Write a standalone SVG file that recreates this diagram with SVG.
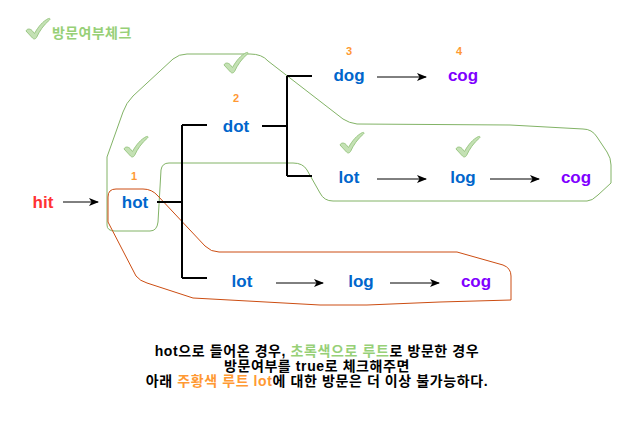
<svg xmlns="http://www.w3.org/2000/svg" width="636" height="425" viewBox="0 0 636 425">
<style>
.w{font-family:"Liberation Sans","Noto Sans CJK KR",sans-serif;font-weight:bold;font-size:17px;text-anchor:middle}
.blue{fill:#0066CC}
.purple{fill:#7F00FF}
.red{fill:#FF3333}
.num{font-family:"Liberation Sans",sans-serif;font-weight:bold;font-size:11px;fill:#FF9933;text-anchor:middle}
.tree{stroke:#000;stroke-width:2;fill:none}
.arr{stroke:#000;stroke-width:1;fill:none;marker-end:url(#ah)}
.note{font-family:"Liberation Sans","Noto Sans CJK KR",sans-serif;font-weight:bold;font-size:14px;letter-spacing:0.6px;text-anchor:middle;fill:#000}
.g{fill:#97D077}
.o{fill:#FF9933}
.chk{fill:#c4e1b4;stroke:#9cc886;stroke-width:1}
</style>
<defs>
<marker id="ah" markerWidth="10" markerHeight="8" refX="9" refY="4" orient="auto" markerUnits="userSpaceOnUse">
<path d="M0,0 L10,4 L0,8 L2.5,4 Z" fill="#000"/>
</marker>
<path id="check" class="chk" d="M1,13 C2,10.5 5,10.5 7,12.5 L9.5,15.5 C13,9 18,3 23.5,0.5 C25,0 25.5,1.2 24.5,2 C18.5,7 14.5,13 11.5,19.5 C10.5,21.3 8.5,21.3 7.5,20 Z"/>
</defs>

<g id="legend">
<use href="#check" x="25" y="18"/>
<text x="52" y="38" font-family="Noto Sans CJK KR,sans-serif" font-weight="bold" font-size="14" letter-spacing="0.4" fill="#97D077">방문여부체크</text>
</g>

<g id="regions">
<path d="M107,157 L107,225 Q107,231 115,231 L150,231 Q157,231 158,222 L161,170 Q162,163 169,163 L293,163 Q303,163 307,170 L320,193 Q324,201 333,201 L587,201 Q592,201 598,195 L611,183 L611,165 Q611,158 607,152 L597,137 Q592,129 583,129 L510,125 L357,124 Q349,123 343,119 L268,61 Q262,54 250,54 L187,54 Q179,54 173,59 L133,96 Q126,103 123,112 Z" fill="none" stroke="#82b366" stroke-width="1"/>
<path d="M108,222 L108,197 Q108,189 116,189 L143,189 Q152,189 158,196 L205,246 Q211,252 219,252 L457,252 L503,265 Q511,268 511,276 L511,300 L440,302 L367,305 L320,305 L193,298 L147,283 Q140,281 136,276 Z" fill="none" stroke="#CC4D12" stroke-width="1"/>
</g>

<g id="checks">
<use href="#check" x="123" y="136"/>
<use href="#check" x="223" y="52"/>
<use href="#check" x="339" y="132"/>
<use href="#check" x="455" y="136"/>
</g>

<g id="connectors">
<path class="tree" d="M157,202 L182,202 M182,125 L182,278 M182,125 L207,125 M182,278 L207,278"/>
<path class="tree" d="M262,126 L287,126 M287,76 L287,176 M287,76 L312,76 M287,176 L312,176"/>
<line class="arr" x1="63" y1="202" x2="98" y2="202"/>
<line class="arr" x1="377" y1="77" x2="426" y2="77"/>
<line class="arr" x1="377" y1="179" x2="426" y2="179"/>
<line class="arr" x1="490" y1="179" x2="539" y2="179"/>
<line class="arr" x1="276" y1="283" x2="323" y2="283"/>
<line class="arr" x1="390" y1="283" x2="439" y2="283"/>
</g>

<g id="n-hit"><text class="w red" x="43" y="208">hit</text></g>
<g id="n-hot"><text class="num" x="134" y="180">1</text><text class="w blue" x="135" y="208">hot</text></g>
<g id="n-dot"><text class="num" x="236" y="102">2</text><text class="w blue" x="236" y="132">dot</text></g>
<g id="n-dog"><text class="num" x="349" y="55">3</text><text class="w blue" x="349" y="81">dog</text></g>
<g id="n-cog1"><text class="num" x="459" y="55">4</text><text class="w purple" x="463" y="81">cog</text></g>
<g id="n-lot1"><text class="w blue" x="349" y="183">lot</text></g>
<g id="n-log1"><text class="w blue" x="463" y="183">log</text></g>
<g id="n-cog2"><text class="w purple" x="576" y="183">cog</text></g>
<g id="n-lot2"><text class="w blue" x="242" y="287">lot</text></g>
<g id="n-log2"><text class="w blue" x="361" y="287">log</text></g>
<g id="n-cog3"><text class="w purple" x="476" y="287">cog</text></g>

<g id="note">
<text class="note" x="317" y="356">hot으로 들어온 경우, <tspan class="g">초록색으로 루트</tspan>로 방문한 경우</text>
<text class="note" x="317" y="371">방문여부를 true로 체크해주면</text>
<text class="note" x="317" y="386">아래 <tspan class="o">주황색 루트 lot</tspan>에 대한 방문은 더 이상 불가능하다.</text>
</g>
</svg>
